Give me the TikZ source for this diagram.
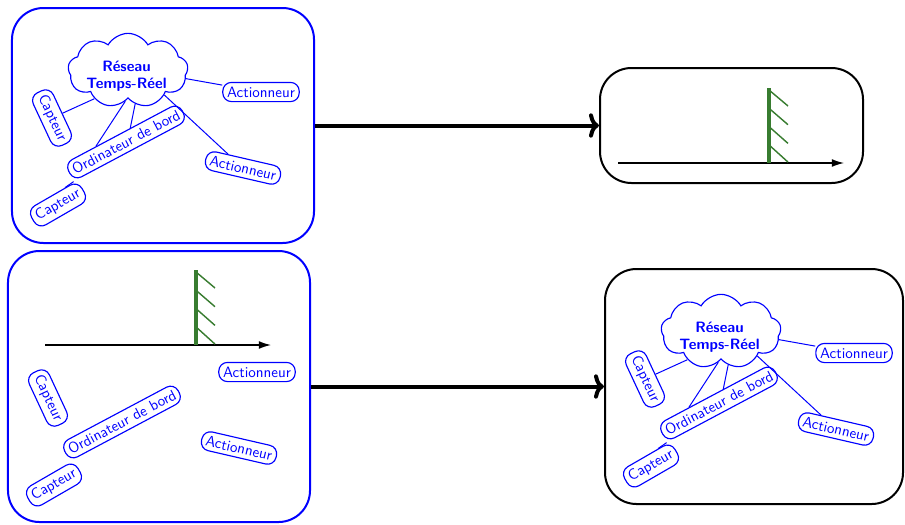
\documentclass[tikz,border=0pt]{standalone}
\usepackage{fontspec}
\usetikzlibrary{shapes.symbols,arrows.meta,calc}
\definecolor{wallgreen}{RGB}{56,124,48}
\newcommand\netnodes{%
  \node[tag] (act1) at (261,92) {Actionneur};
  \node[tag, rotate=-65] (capt1) at (52,118) {Capteur};
  \node[tag, rotate=28] (ord) at (126,142) {Ordinateur de bord};
  \node[tag, rotate=30] (capt2) at (58,205) {Capteur};
  \node[tag, rotate=-13] (act2) at (243,168) {Actionneur};
}
\newcommand\netcloudlinks{%
  \node[netcloud] (cloud) at (128,70.5) {};
  \node[cloudtext] (cloudlabel) at (126.5,76.5) {Réseau\\Temps-Réel};
  \draw[link] (cloud.-8) -- (act1);
  \draw[link] (cloud.-140) -- (capt1);
  \draw[link] (cloud.-95) -- ($(ord.north west)!0.28!(ord.north east)$);
  \draw[link] (cloud.-78) -- ($(ord.north west)!0.58!(ord.north east)$);
  \draw[link] ($(capt2.north west)!0.75!(capt2.north east)$) -- (ord.south west);
  \draw[link] (cloud.-34) -- (act2);
}
\newcommand\groundscene{%
  \draw[axis] (45,345) -- (271,345);
  \draw[wall] (196,270) -- (196,345);
  \foreach \k in {0,...,3}
    \draw[hatch] (196,{272+18.3*\k}) -- (215,{288+18.7*\k});
}
\begin{document}
\begin{tikzpicture}[x=0.7pt,y=-0.7pt,
  frameblue/.style={draw=blue, line width=1.4pt, rounded corners=22pt, inner sep=0pt},
  frameblack/.style={draw=black, line width=1.4pt, rounded corners=22pt, inner sep=0pt},
  tag/.style={draw=blue, text=blue, line width=0.8pt, rounded corners=6pt, inner sep=3pt,
    font=\sffamily\fontsize{10.5}{12}\selectfont},
  link/.style={draw=blue, line width=0.7pt},
  netcloud/.style={cloud, cloud puffs=9, cloud puff arc=120, cloud ignores aspect, draw=blue,
    line width=0.8pt, minimum width=84pt, minimum height=52pt, inner sep=0pt},
  cloudtext/.style={text=blue, align=center, inner sep=0pt,
    font=\sffamily\bfseries\fontsize{10.5}{12}\selectfont},
  bigarrow/.style={line width=2.8pt, -{To[round,length=7pt,width=17pt]}},
  axis/.style={line width=0.9pt, -{Latex[length=8.5pt,width=5.5pt]}},
  wall/.style={draw=wallgreen, line width=2.8pt},
  hatch/.style={draw=wallgreen, line width=1pt}
]
\useasboundingbox (0,0) rectangle (905,524);

% frames
\node[frameblue, minimum width=211.4pt, minimum height=164.5pt] (b1) at (163,125.5) {};
\node[frameblue, minimum width=211.4pt, minimum height=189.7pt] (b2) at (159,386.5) {};
\node[frameblack, minimum width=184.1pt, minimum height=80.5pt] (b3) at (731.5,125.5) {};
\node[frameblack, minimum width=208.6pt, minimum height=164.5pt] (b4) at (754,386.5) {};

% box 1: network
\begin{scope}[name prefix=a-]
  \netnodes
  \netcloudlinks
\end{scope}

% box 2: ground scene + unconnected nodes
\groundscene
\begin{scope}[shift={(-4,280)}, name prefix=c-]
  \netnodes
\end{scope}

% box 3: ground scene
\begin{scope}[shift={(573,-182)}]
  \groundscene
\end{scope}

% box 4: network
\begin{scope}[shift={(593,261)}, name prefix=d-]
  \netnodes
  \netcloudlinks
\end{scope}

% arrows
\draw[bigarrow] (b1) -- (b3);
\draw[bigarrow] (b2) -- (b4);
\end{tikzpicture}
\end{document}
